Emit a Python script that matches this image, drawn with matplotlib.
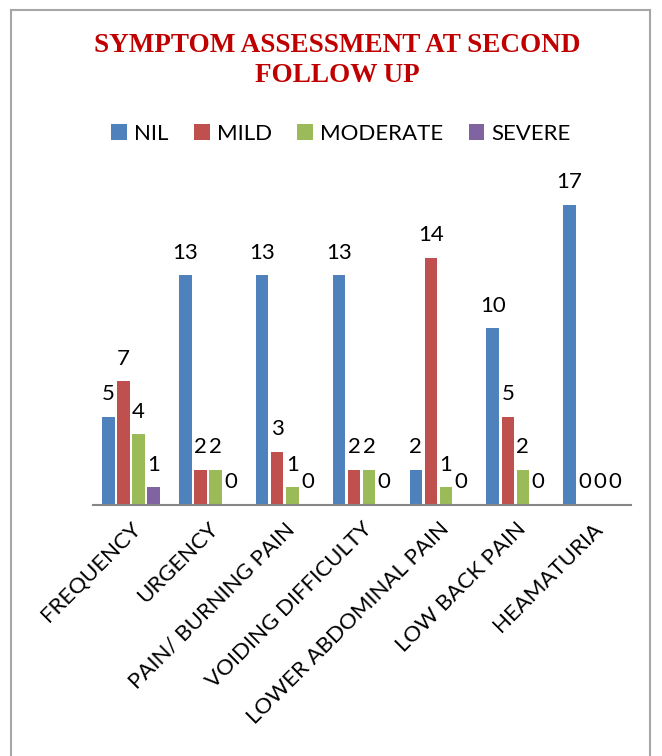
import matplotlib
matplotlib.use("Agg")
import matplotlib.pyplot as plt
import numpy as np
from matplotlib.lines import Line2D
from matplotlib.patches import Patch

categories = ["FREQUENCY", "URGENCY", "PAIN/ BURNING PAIN", "VOIDING DIFFICULTY",
              "LOWER ABDOMINAL PAIN", "LOW BACK PAIN", "HEAMATURIA"]
series_names = ["NIL", "MILD", "MODERATE", "SEVERE"]
nil = [5, 13, 13, 13, 2, 10, 17]
mild = [7, 2, 3, 2, 14, 5, 0]
moderate = [4, 2, 1, 2, 1, 2, 0]
severe = [1, 0, 0, 0, 0, 0, 0]

colors = ["#4F81BD", "#C0504D", "#9BBB59", "#8064A2"]

W, H = 662, 756
fig = plt.figure(figsize=(W / 100, H / 100), dpi=100)
plt.rcParams["font.family"] = ["Lato", "DejaVu Sans"]

# plot area in pixel terms: x 92..631, y baseline at 505, 18 units ~ 318 px
left, right = 92.6 / W, 630.6 / W
bottom = (H - 505) / H
top = (H - (505 - 18 * 17.67)) / H
ax = fig.add_axes([left, bottom, right - left, top - bottom])

x = np.arange(len(categories))
slot = 0.196
bar_w = 0.163
for i, (name, vals) in enumerate(zip(series_names, [nil, mild, moderate, severe])):
    pos = x + (i - 1.5) * slot
    ax.bar(pos, vals, width=bar_w, color=colors[i], label=name, zorder=2)
    for px, v in zip(pos, vals):
        ax.annotate(str(v), (px, v), xytext=(0, 12), textcoords="offset points",
                    ha="center", va="baseline", fontsize=16, color="black")

ax.set_xlim(-0.5, len(categories) - 0.5)
ax.set_ylim(0, 18)
ax.set_yticks([])
for side in ("left", "right", "top"):
    ax.spines[side].set_visible(False)
ax.spines["bottom"].set_color("#868686")
ax.spines["bottom"].set_linewidth(1.5)
ax.set_xticks(x)
ax.set_xticklabels(categories, rotation=45, ha="right", va="top",
                   rotation_mode="anchor", fontsize=16)
ax.tick_params(axis="x", length=0, pad=10)

# title
fig.text(337 / W, 1 - 45 / H, "SYMPTOM ASSESSMENT AT SECOND", ha="center", va="center",
         family="Liberation Serif", fontweight="bold", fontsize=19.5, color="#C00000")
fig.text(337 / W, 1 - 76 / H, "FOLLOW UP", ha="center", va="center",
         family="Liberation Serif", fontweight="bold", fontsize=19.5, color="#C00000")

handles = [Patch(facecolor=c, edgecolor="none") for c in colors]
fig.legend(handles, series_names, loc="center", bbox_to_anchor=(341 / W, 1 - 134 / H),
           ncol=4, frameon=False, fontsize=16, handlelength=0.7, handleheight=0.7,
           handletextpad=0.32, columnspacing=1.15)

# chart border (open at bottom edge)
bc = "#A6A6A6"
fig.add_artist(Line2D([11 / W, 11 / W], [0, 1 - 10 / H], color=bc, lw=1.5))
fig.add_artist(Line2D([650 / W, 650 / W], [0, 1 - 10 / H], color=bc, lw=1.5))
fig.add_artist(Line2D([11 / W, 650 / W], [1 - 10 / H, 1 - 10 / H], color=bc, lw=1.5))

fig.savefig("out.png", dpi=100)
